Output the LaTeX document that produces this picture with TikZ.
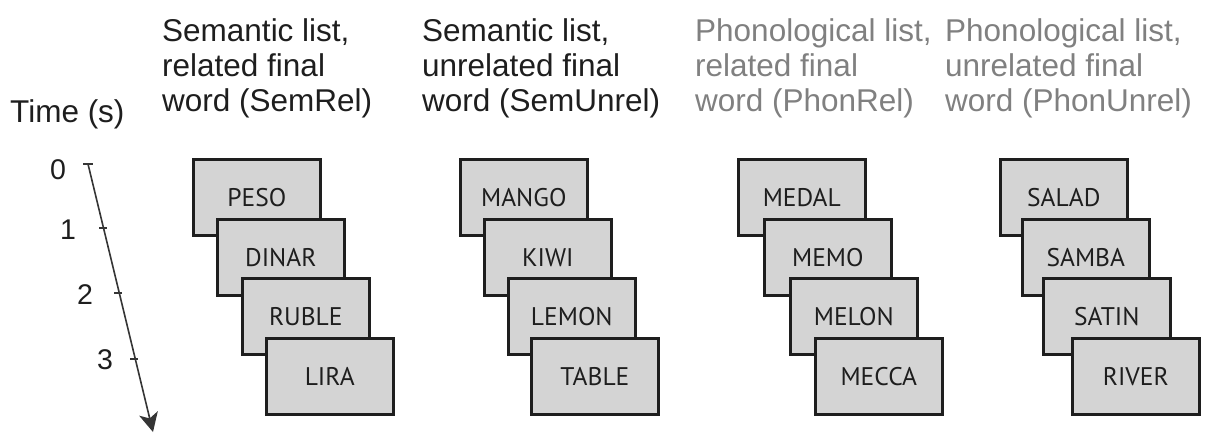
\documentclass[tikz,border=0pt]{standalone}
\usepackage{fontspec}
\setmainfont{Liberation Sans}
\newfontfamily\cardfont{PT Sans}
\usetikzlibrary{arrows.meta}
\definecolor{cardfill}{RGB}{212,212,212}
\definecolor{ink}{RGB}{30,30,30}
\definecolor{greyink}{RGB}{128,128,128}
\begin{document}
\begin{tikzpicture}[x=1pt,y=-1pt,
  card/.style={draw=ink, line width=2.6pt, fill=cardfill, anchor=north west,
    minimum width=127pt, minimum height=76pt, inner sep=0pt,
    font=\cardfont\fontsize{25.5}{28}\selectfont, text=ink},
  header/.style={anchor=base west, inner sep=0pt, align=left,
    font=\fontsize{31.5}{35}\selectfont},
  ticklabel/.style={inner sep=0pt, font=\fontsize{28.5}{30}\selectfont, text=ink},
  axis/.style={draw=ink!90, line width=1.6pt},
  tickmark/.style={draw=ink!90, line width=1.2pt}]
\useasboundingbox (0,0) rectangle (1213,432);

% headers (base anchor = baseline of the last line)
\node[header, text=ink] (tlabel) at (10,122) {Time (s)};
\node[header, text=ink] (h1) at (162,111) {Semantic list,\\related final\\word (SemRel)};
\node[header, text=ink] (h2) at (422,111) {Semantic list,\\unrelated final\\word (SemUnrel)};
\node[header, text=greyink] (h3) at (695,111) {Phonological list,\\related final\\word (PhonRel)};
\node[header, text=greyink] (h4) at (945,111) {Phonological list,\\unrelated final\\word (PhonUnrel)};

% time axis
\coordinate (t0) at (88,164);
\coordinate (t1) at (103,228);
\coordinate (t2) at (118,293);
\coordinate (t3) at (134,359);
\coordinate (tend) at (153,432);
\draw[axis, -{Stealth[length=19pt,width=19pt,inset=5pt]}] (t0) -- (tend);
\draw[tickmark] ([xshift=-5pt]t0) -- ([xshift=5pt]t0);
\draw[tickmark] ([xshift=-4pt]t1) -- ([xshift=4pt]t1);
\draw[tickmark] ([xshift=-4pt]t2) -- ([xshift=4pt]t2);
\draw[tickmark] ([xshift=-4pt]t3) -- ([xshift=4pt]t3);
\node[ticklabel] (l0) at (58,170) {0};
\node[ticklabel] (l1) at (68,230) {1};
\node[ticklabel] (l2) at (85,295) {2};
\node[ticklabel] (l3) at (105,360) {3};

% stack 1
\node[card] (a1) at (192,158) {PESO};
\node[card] (a2) at (216,218) {DINAR};
\node[card] (a3) at (241,277) {RUBLE};
\node[card] (a4) at (265,337) {LIRA};
% stack 2
\node[card] (b1) at (459,158) {MANGO};
\node[card] (b2) at (483,218) {KIWI};
\node[card] (b3) at (507,277) {LEMON};
\node[card] (b4) at (530,337) {TABLE};
% stack 3
\node[card] (c1) at (737,158) {MEDAL};
\node[card] (c2) at (763,218) {MEMO};
\node[card] (c3) at (789,277) {MELON};
\node[card] (c4) at (814,337) {MECCA};
% stack 4
\node[card] (d1) at (999,158) {SALAD};
\node[card] (d2) at (1021,218) {SAMBA};
\node[card] (d3) at (1042,277) {SATIN};
\node[card] (d4) at (1071,337) {RIVER};
\end{tikzpicture}
\end{document}
